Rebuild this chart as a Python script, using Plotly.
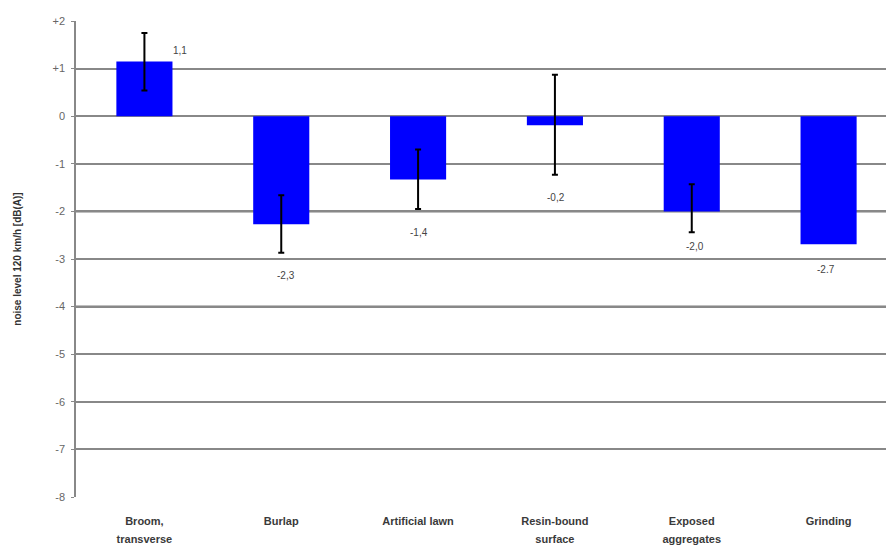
import plotly.graph_objects as go

categories = ["Broom,<br>transverse", "Burlap", "Artificial lawn",
              "Resin-bound<br>surface", "Exposed<br>aggregates", "Grinding"]
values = [1.15, -2.27, -1.33, -0.19, -2.0, -2.69]
# error bars exist for the first five surfaces only
err_plus = [0.60, 0.61, 0.63, 1.06, 0.57]
err_minus = [0.61, 0.60, 0.62, 1.04, 0.44]
label_texts = ["1,1", "-2,3", "-1,4", "-0,2", "-2,0", "-2.7"]
ytick_vals = [2, 1, 0, -1, -2, -3, -4, -5, -6, -7, -8]
ytick_text = ["+2", "+1", "0", "-1", "-2", "-3", "-4", "-5", "-6", "-7", "-8"]
emphasized_levels = [-2, -4]

# label offsets in pixels (style)
label_xshift = [36, 5, 1, 1, 3, -3]
label_yshift = [11, -51, -53, -72, -35, -25]

# tick labels: small text with wider line spacing
tick_labels = ["<br>".join("<span style='font-size:11px'>%s</span>" % part
                           for part in c.split("<br>")) for c in categories]

fig = go.Figure()
fig.add_trace(go.Bar(
    x=categories, y=values, width=0.41,
    marker=dict(color="#0000FF", line=dict(width=0)),
))
n_err = len(err_plus)
fig.add_trace(go.Scatter(
    x=categories[:n_err], y=values[:n_err], mode="markers",
    marker=dict(size=1, opacity=0),
    error_y=dict(type="data", symmetric=False, array=err_plus, arrayminus=err_minus,
                 color="black", thickness=2, width=3),
    hoverinfo="skip",
))

for lvl in emphasized_levels:
    fig.add_shape(type="line", xref="paper", x0=0, x1=1, yref="y", y0=lvl, y1=lvl,
                  line=dict(color="black", width=1.8), layer="below")

for c, v, t, xs, ys in zip(categories, values, label_texts, label_xshift, label_yshift):
    fig.add_annotation(x=c, y=v, text=t, showarrow=False, xshift=xs, yshift=ys,
                       font=dict(family="Liberation Sans, Arial", size=10, color="#444444"))

fig.update_layout(
    width=894, height=552,
    margin=dict(l=68, r=5, t=13, b=63, autoexpand=False),
    plot_bgcolor="white", paper_bgcolor="white",
    showlegend=False,
    font=dict(family="Liberation Sans, Arial", color="#444444"),
)
fig.update_xaxes(
    automargin=False,
    tickvals=categories, ticktext=tick_labels,
    showgrid=False, zeroline=False, showline=False, ticks="",
    tickfont=dict(family="Liberation Sans, Arial", size=14, color="#3a3a3a", weight="bold"),
    ticklabelstandoff=13,
)
fig.update_yaxes(
    automargin=False,
    range=[-8, 2], tickvals=ytick_vals, ticktext=ytick_text,
    showgrid=True, gridcolor="#888888", gridwidth=1.6,
    zeroline=True, zerolinecolor="#888888", zerolinewidth=1.6,
    showline=True, linecolor="#888888", linewidth=1.6,
    ticks="outside", ticklen=3, tickcolor="#888888",
    ticklabelstandoff=4,
    tickfont=dict(family="Liberation Sans, Arial", size=11, color="#666666"),
    title=dict(text="noise level 120 km/h [dB(A)]", standoff=29,
               font=dict(family="Liberation Sans, Arial", size=10, color="#333333", weight="bold")),
)

fig.write_html("out.html")
